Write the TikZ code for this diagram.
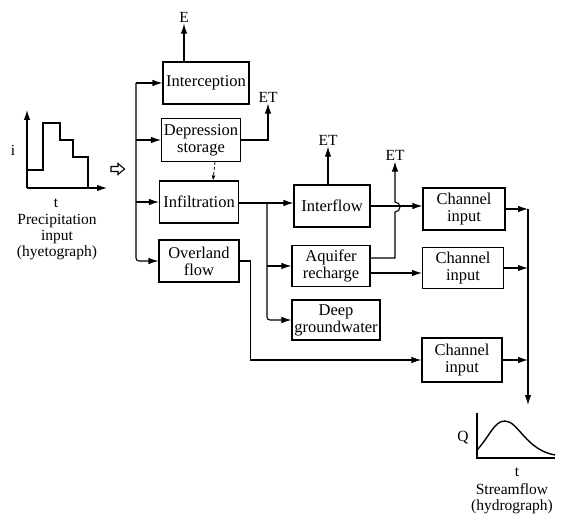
\documentclass[tikz,border=0pt]{standalone}
\usepackage{fontspec}
\setmainfont{Liberation Serif}
\usetikzlibrary{arrows.meta}

\begin{document}
\begin{tikzpicture}[x=1pt,y=-1pt,line width=1.1pt,
  box/.style={draw,align=center,inner sep=1pt,font=\fontsize{16.5}{17}\selectfont},
  lbl/.style={inner sep=1pt,align=center,font=\fontsize{15.5}{16}\selectfont},
  arr/.style={-{Latex[length=10pt,width=6.5pt]}}]
\useasboundingbox (0,0) rectangle (565,521);
% hyetograph
\draw[arr] (27,188) -- (27,110);
\draw[arr] (27,188) -- (107,188);
\draw[line width=1.5pt] (27,170) -| (43,123) -| (60,140) -| (73,157) -| (88,188);
\node[lbl] (i) at (13,150) {i};
\node[lbl] (t1) at (56,203) {t};
\node[lbl] (prec) at (57,237) {Precipitation\\input\\(hyetograph)};
\draw (111,166.5) -- (118,166.5) -- (118,163.5) -- (124.5,169) -- (118,174.5) -- (118,171.5) -- (111,171.5) -- cycle;
% boxes
\node[box,minimum width=86pt,minimum height=42pt] (interc) at (206,83) {Interception};
\node[box,minimum width=79pt,minimum height=43pt] (depr) at (201,140) {Depression\\storage};
\node[box,minimum width=79pt,minimum height=42pt] (infil) at (199,202) {Infiltration};
\node[box,minimum width=80pt,minimum height=42pt] (overl) at (199,261) {Overland\\flow};
\node[box,minimum width=76pt,minimum height=42pt] (inter) at (332,206) {Interflow};
\node[box,minimum width=78pt,minimum height=41pt] (aquif) at (331,266) {Aquifer\\recharge};
\node[box,minimum width=88pt,minimum height=40pt] (deep) at (336,320) {Deep\\groundwater};
\node[box,minimum width=82pt,minimum height=42pt] (chan1) at (464,209) {Channel\\input};
\node[box,minimum width=81pt,minimum height=41pt] (chan2) at (463,268) {Channel\\input};
\node[box,minimum width=80pt,minimum height=44pt] (chan3) at (462,360) {Channel\\input};
\node[lbl] (e) at (184,17) {E};
\node[lbl] (et1) at (268,97) {ET};
\node[lbl] (et2) at (328,140) {ET};
\node[lbl] (et3) at (395,155) {ET};
% distribution
\coordinate (dtop) at (136,83);
\draw[arr] (dtop) -- (interc.west);
\draw[arr,rounded corners=3pt] (dtop) |- (overl.west);
\draw[arr] (depr.west -| dtop) -- (depr.west);
\draw[arr] (infil.west -| dtop) -- (infil.west);
\draw[arr] (e.south |- interc.north) -- (e.south);
\draw[arr] (depr.east) -| (et1.south);
\draw[-{Latex[length=5pt,width=4pt]},densely dashed,line width=0.8pt] ([xshift=14pt]depr.south) -- ([xshift=14pt]infil.north);
% subsurface
\coordinate (br) at (267,203);
\draw[arr] (infil.east |- br) -- (br -| inter.west);
\draw[arr,rounded corners=3pt] (br) |- (deep.west);
\draw[arr] (br |- aquif.west) -- (aquif.west);
\draw[arr] (overl.east) -- ++(11,0) |- (chan3.west);
\draw[arr] (et2.south |- inter.north) -- (et2.south);
\draw[arr] (inter.east) -- (inter.east -| chan1.west);
\coordinate (hop) at (395,207);
\draw[arr] ([yshift=8pt]aquif.east) -| ([yshift=-5pt]hop) arc[start angle=-90,end angle=90,radius=5pt] -- (et3.south);
\draw[arr] ([yshift=-7pt]aquif.east) -- ([yshift=-7pt]aquif.east -| chan2.west);
% streamflow
\coordinate (ctop) at (528,209);
\coordinate (qtop) at (528,405);
\draw[arr] (chan1.east) -- (chan1.east -| ctop);
\draw[arr] (ctop) -- (qtop);
\draw[arr] (chan2.east) -- (chan2.east -| ctop);
\draw[arr] (chan3.east) -- (chan3.east -| ctop);
% hydrograph
\draw (477,413) -- (477,458) -- (555,458);
\draw[line width=1.4pt] (477,450) .. controls (490,436) and (494,421) .. (505,421) .. controls (518,421) and (526,450) .. (555,455);
\node[lbl] (q) at (463,438) {Q};
\node[lbl] (t2) at (517,472) {t};
\node[lbl] (strm) at (512,499) {Streamflow\\(hydrograph)};
\end{tikzpicture}
\end{document}
